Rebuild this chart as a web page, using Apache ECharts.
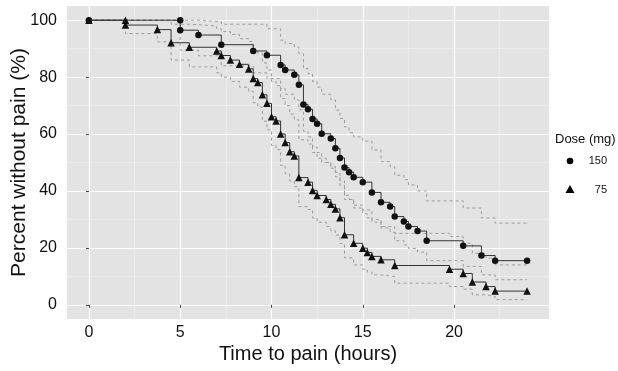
<!DOCTYPE html>
<html lang="en">
<head>
    <meta charset="UTF-8">
    <title>Time to pain</title>
    <script src="https://cdn.jsdelivr.net/npm/echarts@6/dist/echarts.min.js"></script>
    <style>
        html, body { margin: 0; padding: 0; background: #fff; }
        #chart { width: 618px; height: 371px; }
    </style>
</head>
<body>
    <div id="chart"></div>
    <script>
        // 150 mg group: event times (hours), survival %, and confidence band
        var t150 = [0, 5, 5, 6, 7.25, 9, 9.75, 10.5, 10.75, 11.25, 11.5, 11.75, 12, 12.25, 12.5, 12.75, 13.25, 13.5, 13.75, 14, 14.25, 14.5, 15, 15.5, 16, 16.5, 16.75, 17.25, 17.5, 18, 18.5, 20.5, 21.5, 22.25, 24];
        var s150 = [100, 100, 96.5, 94.8, 91.4, 89.2, 87.7, 84.3, 82.5, 80.8, 77.3, 70.4, 68.7, 65.3, 63.6, 60.1, 58.4, 55.0, 51.6, 48.2, 46.6, 44.8, 43.1, 39.5, 36.0, 34.5, 31.0, 29.3, 27.5, 25.9, 22.5, 20.7, 17.3, 15.5, 15.5];
        var hi150 = [100, 100, 100, 99.5, 98.6, 98.6, 97.0, 93.0, 91.8, 90.6, 88.3, 83.0, 81.3, 78.5, 76.5, 74.0, 72.0, 68.4, 65.5, 62.5, 60.5, 59.0, 57.5, 54.4, 50.3, 48.5, 45.5, 44.0, 42.1, 40.0, 36.5, 34.0, 30.5, 28.7, 28.7];
        var lo150 = [100, 100, 89.5, 87.5, 84.0, 81.5, 79.5, 76.0, 74.0, 72.0, 68.5, 61.0, 59.0, 55.5, 53.5, 50.0, 48.0, 45.0, 42.0, 38.5, 37.0, 35.0, 33.3, 30.0, 27.0, 25.5, 22.5, 21.0, 19.8, 18.5, 15.5, 13.5, 10.5, 8.8, 8.8];

        // 75 mg group
        var t75 = [0, 2, 2, 3.75, 4.5, 5.5, 7, 7.25, 7.75, 8.25, 8.75, 9, 9.25, 9.5, 9.75, 10, 10.25, 10.5, 10.75, 11, 11.25, 11.5, 12, 12.25, 12.5, 13, 13.25, 13.5, 13.75, 14, 14.5, 15, 15.25, 15.5, 16, 16.75, 19.75, 20.5, 21, 21.75, 22.25, 24];
        var s75 = [100, 100, 98.3, 96.7, 92.1, 90.5, 89.2, 87.6, 86.0, 84.5, 82.9, 79.5, 78.1, 73.8, 70.8, 66.1, 64.6, 60.0, 57.0, 53.8, 52.3, 44.7, 43.1, 40.2, 38.4, 37.0, 35.3, 33.7, 30.6, 24.6, 21.6, 19.9, 18.4, 17.0, 15.8, 13.8, 12.5, 11.0, 8.0, 6.4, 4.8, 4.8];
        var hi75 = [100, 100, 100, 100, 98.6, 98.0, 97.0, 96.0, 95.0, 93.5, 92.5, 89.5, 88.4, 85.0, 82.5, 78.5, 77.0, 72.5, 70.0, 67.0, 65.0, 58.0, 56.5, 53.5, 51.5, 50.0, 48.5, 46.5, 43.5, 37.0, 34.0, 32.0, 30.5, 29.0, 27.5, 25.1, 24.0, 21.6, 18.1, 16.4, 14.0, 14.0];
        var lo75 = [100, 100, 95.3, 92.4, 86.0, 83.6, 81.5, 80.0, 78.5, 76.5, 75.0, 71.0, 69.5, 64.5, 61.5, 56.0, 54.5, 49.0, 46.0, 43.5, 41.5, 34.5, 33.5, 30.5, 29.0, 27.5, 26.0, 24.5, 21.5, 16.5, 14.0, 12.5, 11.5, 10.5, 9.9, 7.6, 6.4, 5.5, 3.5, 2.9, 1.8, 1.8];

        var xTicks = [0, 5, 10, 15, 20];
        var xMinor = [2.5, 7.5, 12.5, 17.5, 22.5];
        var yTicks = [0, 20, 40, 60, 80, 100];
        var yMinor = [10, 30, 50, 70, 90];

        function pairs(xs, ys) {
            return xs.map(function (x, i) { return [x, ys[i]]; });
        }

        var font = 'Liberation Sans, Arial, sans-serif';

        function band(values, times) {
            return {
                type: 'line',
                step: 'end',
                data: pairs(times, values),
                symbol: 'none',
                silent: true,
                lineStyle: { color: '#9b9b9b', width: 1, type: [3, 3] },
                z: 2
            };
        }

        var chart = echarts.init(document.getElementById('chart'));
        var option = {
            animation: false,
            backgroundColor: '#fff',
            textStyle: { fontFamily: font },
            grid: {
                left: 67, right: 69, top: 6, bottom: 52,
                outerBoundsMode: 'none',
                show: true, backgroundColor: '#e3e3e3', borderWidth: 0
            },
            xAxis: [{
                type: 'value', min: -1.2, max: 25.2,
                name: 'Time to pain (hours)', nameLocation: 'middle', nameGap: 25,
                nameMoveOverlap: false,
                nameTextStyle: { fontSize: 20, color: '#111', verticalAlign: 'top' },
                axisLine: { show: false },
                axisTick: { customValues: xTicks, length: 3, lineStyle: { color: '#444' } },
                axisLabel: { customValues: xTicks, fontSize: 16, color: '#111', margin: 6 },
                splitLine: { lineStyle: { color: '#ffffff', width: 1.2 } }
            }, {
                type: 'value', min: -1.2, max: 25.2, position: 'bottom',
                axisLine: { show: false },
                axisTick: { show: false, customValues: xMinor },
                axisLabel: { show: false, customValues: xMinor },
                splitLine: { lineStyle: { color: '#f2f2f2', width: 0.6 } }
            }],
            yAxis: [{
                type: 'value', min: -5, max: 105,
                name: 'Percent without pain (%)', nameLocation: 'middle', nameGap: 37,
                nameMoveOverlap: false,
                nameTextStyle: { fontSize: 21, color: '#111' },
                axisLine: { show: false },
                axisTick: { customValues: yTicks, length: 3, lineStyle: { color: '#444' } },
                axisLabel: { customValues: yTicks, fontSize: 16, color: '#111', margin: 10 },
                splitLine: { lineStyle: { color: '#ffffff', width: 1.2 } }
            }, {
                type: 'value', min: -5, max: 105, position: 'left',
                axisLine: { show: false },
                axisTick: { show: false, customValues: yMinor },
                axisLabel: { show: false, customValues: yMinor },
                splitLine: { lineStyle: { color: '#f2f2f2', width: 0.6 } }
            }],
            graphic: [
                { type: 'text', left: 555, top: 133, style: { text: 'Dose (mg)', font: '13px ' + font, fill: '#111' } },
                { type: 'circle', shape: { cx: 570, cy: 161, r: 3.3 }, style: { fill: '#000' } },
                { type: 'text', right: 11, top: 155, style: { text: '150', font: '11px ' + font, fill: '#111' } },
                { type: 'polygon', shape: { points: [[570, 185], [574.5, 193], [565.5, 193]] }, style: { fill: '#000' } },
                { type: 'text', right: 11, top: 184, style: { text: '75', font: '11px ' + font, fill: '#111' } }
            ],
            series: [
                band(hi150, t150), band(lo150, t150),
                band(hi75, t75), band(lo75, t75),
                {
                    name: '150', type: 'line', step: 'end',
                    data: pairs(t150, s150),
                    symbol: 'circle', symbolSize: 6.5,
                    itemStyle: { color: '#111' },
                    lineStyle: { color: '#333', width: 1 },
                    z: 3
                },
                {
                    name: '75', type: 'line', step: 'end',
                    data: pairs(t75, s75),
                    symbol: 'triangle', symbolSize: 7.5,
                    itemStyle: { color: '#111' },
                    lineStyle: { color: '#333', width: 1 },
                    z: 4
                }
            ]
        };
        chart.setOption(option);
    </script>
</body>
</html>
